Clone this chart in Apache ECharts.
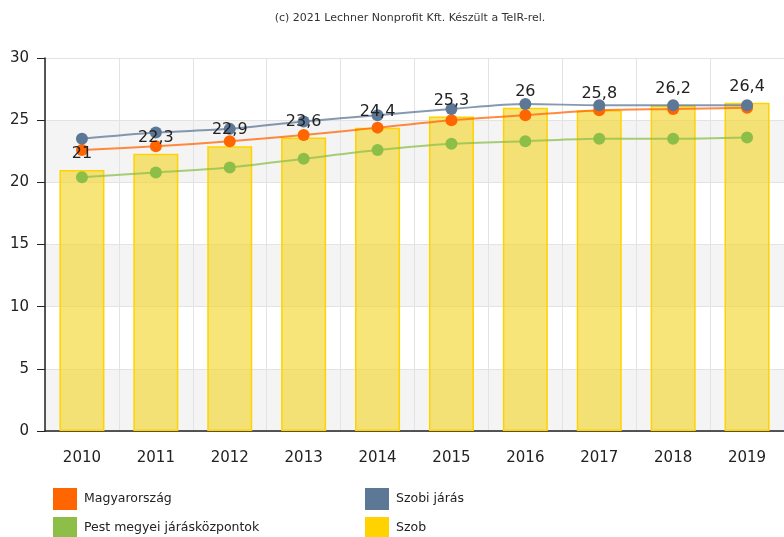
<!DOCTYPE html>
<html lang="hu">
<head>
  <meta charset="UTF-8">
  <title>Szob</title>
  <script src="https://cdn.jsdelivr.net/npm/echarts@6/dist/echarts.min.js"></script>
  <style>
    html, body { margin: 0; padding: 0; background: #fff; }
    #main { width: 784px; height: 537px; }
  </style>
</head>
<body>
  <div id="main"></div>
  <script>
    // adatok
    var years = ['2010', '2011', '2012', '2013', '2014', '2015', '2016', '2017', '2018', '2019'];
    var szob = [21, 22.3, 22.9, 23.6, 24.4, 25.3, 26, 25.8, 26.2, 26.4];
    var magyarorszag = [22.6, 22.9, 23.3, 23.8, 24.4, 25.0, 25.4, 25.8, 25.9, 26.0];
    var szobiJaras = [23.5, 24.0, 24.3, 24.9, 25.4, 25.9, 26.3, 26.2, 26.2, 26.2];
    var pestKozpontok = [20.4, 20.8, 21.2, 21.9, 22.6, 23.1, 23.3, 23.5, 23.5, 23.6];
    var yTicks = [0, 5, 10, 15, 20, 25, 30];

    var font = 'DejaVu Sans, Verdana, sans-serif';

    function vesszo(v) {
      return String(v).replace('.', ',');
    }

    function lineSeries(name, data, color) {
      return {
        name: name,
        type: 'line',
        data: data,
        smooth: 0.3,
        symbol: 'circle',
        symbolSize: 12,
        z: 4,
        itemStyle: { color: color },
        lineStyle: { width: 2, color: color, opacity: 0.75 }
      };
    }

    function legendBox(left, names) {
      return {
        left: left,
        top: 488,
        height: 80,
        padding: 0,
        orient: 'vertical',
        icon: 'rect',
        itemWidth: 24,
        itemHeight: 22,
        itemGap: 7,
        textStyle: { fontFamily: font, fontSize: 12.5, color: '#222', padding: [0, 0, 0, 2] },
        data: names
      };
    }

    var chart = echarts.init(document.getElementById('main'));
    var option = {
      backgroundColor: '#fff',
      animation: false,
      title: {
        text: '(c) 2021 Lechner Nonprofit Kft. Készült a TeIR-rel.',
        left: 405,
        textAlign: 'center',
        top: 8,
        textStyle: { fontFamily: font, fontSize: 11, fontWeight: 'normal', color: '#333' }
      },
      legend: [
        legendBox(53, ['Magyarország', 'Pest megyei járásközpontok']),
        legendBox(365, ['Szobi járás', {
          name: 'Szob',
          itemStyle: { color: '#ffd200', borderWidth: 0 }
        }])
      ],
      grid: { left: 45, right: -2, top: 58, bottom: 106 },
      xAxis: {
        type: 'category',
        data: years,
        boundaryGap: true,
        axisLine: { lineStyle: { color: '#222', width: 1.5 } },
        axisTick: { alignWithLabel: true, length: 7, lineStyle: { color: '#222' } },
        axisLabel: { fontFamily: font, fontSize: 15, color: '#222', margin: 20 },
        splitLine: { show: true, lineStyle: { color: '#e3e3e3' } }
      },
      yAxis: {
        type: 'value',
        min: yTicks[0],
        max: yTicks[yTicks.length - 1],
        interval: 5,
        axisLine: { show: true, lineStyle: { color: '#222', width: 1.5 } },
        axisTick: { show: true, length: 8, lineStyle: { color: '#222' } },
        axisLabel: { fontFamily: font, fontSize: 15, color: '#222', margin: 16 },
        splitLine: { show: true, lineStyle: { color: '#e3e3e3' } },
        splitArea: { show: true, areaStyle: { color: ['#f4f4f4', '#ffffff'] } }
      },
      series: [
        {
          name: 'Szob',
          type: 'bar',
          data: szob,
          barWidth: 45,
          z: 2,
          itemStyle: {
            color: 'rgba(245,215,50,0.65)',
            borderColor: '#ffd200',
            borderWidth: 1.5
          }
        },
        lineSeries('Magyarország', magyarorszag, '#ff6600'),
        lineSeries('Pest megyei járásközpontok', pestKozpontok, '#8dbf48'),
        lineSeries('Szobi járás', szobiJaras, '#5d7797'),
        {
          // feliratok a pontok felett
          name: 'felirat',
          type: 'bar',
          data: szob,
          barWidth: 45,
          barGap: '-100%',
          silent: true,
          z: 10,
          itemStyle: { color: 'rgba(0,0,0,0)' },
          label: {
            show: true,
            position: 'top',
            distance: 8,
            fontFamily: font,
            fontSize: 16,
            color: '#222',
            formatter: function (p) { return vesszo(p.value); }
          }
        }
      ]
    };
    chart.setOption(option);
  </script>
</body>
</html>
